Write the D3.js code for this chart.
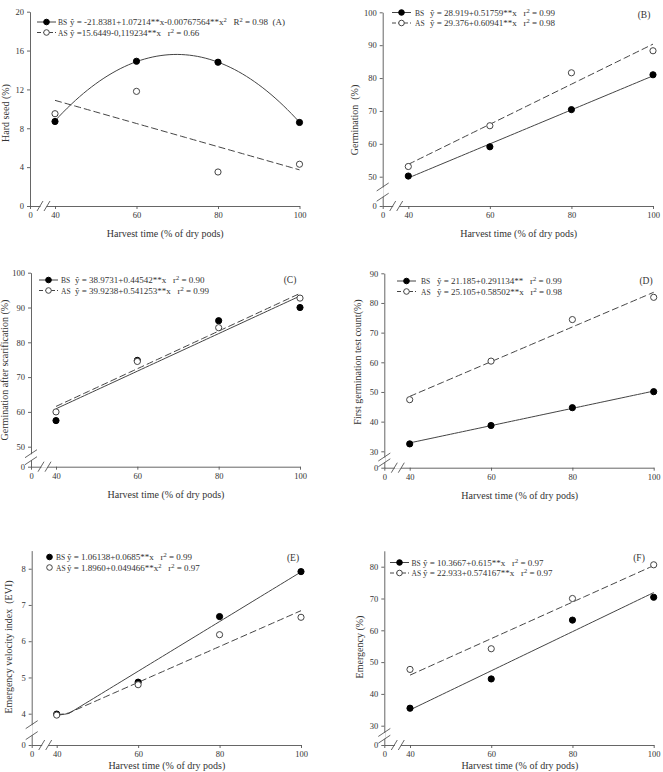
<!DOCTYPE html>
<html>
<head>
<meta charset="utf-8">
<script src="https://cdn.jsdelivr.net/npm/d3@7"></script>
<style>
  body { margin: 0; background: #fff; }
  svg { display: block; font-family: "Liberation Serif", "DejaVu Serif", serif; }
</style>
</head>
<body>
<div id="chart"></div>
<script>
// harvest times (% of dry pods) and axis ticks
const harvest = [40, 60, 80, 100];
const xTicks = [0, 40, 60, 80, 100];
const seriesNames = ["BS", "AS"];

// (A) hard seed
const hardSeedBS = [8.7, 14.9, 14.8, 8.6];
const hardSeedAS = [9.5, 11.8, 3.5, 4.3];
const hardSeedFitBS = [-21.8381, 1.07214, -0.00767564];
const hardSeedFitAS = [15.6449, -0.119234];
const hardSeedTicks = [0, 4, 8, 12, 16, 20];

// (B) germination
const germBS = [50.2, 59.1, 70.4, 81.0];
const germAS = [53.1, 65.5, 81.6, 88.3];
const germFitBS = [28.919, 0.51759];
const germFitAS = [29.376, 0.60941];
const germTicks = [0, 50, 60, 70, 80, 90, 100];

// (C) germination after scarification
const scarBS = [57.5, 74.8, 86.2, 90.0];
const scarAS = [60.0, 74.5, 84.2, 92.7];
const scarFitBS = [39.3, 0.54]; // as drawn (printed equation doesn't match the line)
const scarFitAS = [39.9238, 0.541253];
const scarTicks = [0, 50, 60, 70, 80, 90, 100];

// (D) first germination count
const firstBS = [32.5, 38.7, 44.7, 50.1];
const firstAS = [47.4, 60.4, 74.4, 81.9];
const firstFitBS = [21.185, 0.291134];
const firstFitAS = [25.105, 0.58502];
const firstTicks = [0, 30, 40, 50, 60, 70, 80, 90];

// (E) emergency velocity index
const eviBS = [3.95, 4.87, 6.68, 7.92];
const eviAS = [3.82, 4.80, 6.18, 6.66];
const eviFitBS = [1.06138, 0.0685];
const eviFitAS = [1.8960, 0.049466];
const eviTicks = [0, 4, 5, 6, 7, 8];

// (F) emergency
const emergBS = [35.5, 44.7, 63.2, 70.4];
const emergAS = [47.7, 54.2, 70.0, 80.6];
const emergFitBS = [10.3667, 0.615];
const emergFitAS = [22.933, 0.574167];
const emergTicks = [0, 30, 40, 50, 60, 70, 80];

const xTitle = "Harvest time (% of dry pods)";

const panels = [
  { bs: hardSeedBS, as: hardSeedAS, fit: [hardSeedFitBS, hardSeedFitAS], ticks: hardSeedTicks,
    yDomain: [0, 20], yRange: [206, 11.7], xRange: [30, 55, 299.5], yBreak: false,
    yTitle: "Hard seed (%)", yTitlePos: [9, 113],
    eq: ["\u0177 = -21.8381+1.07214**x-0.00767564**x^2   R^2 = 0.98  (A)", "\u0177 =15.6449-0,119234**x   r^2 = 0.66"],
    leg: { x: 37, y: 25, labX: 58, eqX: 70, line: true }, letter: null },
  { bs: germBS, as: germAS, fit: [germFitBS, germFitAS], ticks: germTicks,
    yDomain: [0, 50, 100], yRange: [206, 176.7, 12.3], xRange: [382.7, 408.3, 653], yBreak: true,
    yTitle: "Germination  (%)", yTitlePos: [358, 120],
    eq: ["\u0177 = 28.919+0.51759**x   r^2 = 0.99", "\u0177 = 29.376+0.60941**x   r^2 = 0.98"],
    leg: { x: 392, y: 15.5, labX: 415, eqX: 430, line: true }, letter: ["(B)", 644, 18] },
  { bs: scarBS, as: scarAS, fit: [scarFitBS, scarFitAS], ticks: scarTicks,
    yDomain: [0, 50, 100], yRange: [466.7, 446.7, 272.7], xRange: [31, 56, 300], yBreak: true,
    yTitle: "Germination after scarification (%)", yTitlePos: [8, 370],
    eq: ["\u0177 = 38.9731+0.44542**x   r^2 = 0.90", "\u0177 = 39.9238+0.541253**x   r^2 = 0.99"],
    leg: { x: 39, y: 283, labX: 61, eqX: 75, line: true }, letter: ["(C)", 290, 283] },
  { bs: firstBS, as: firstAS, fit: [firstFitBS, firstFitAS], ticks: firstTicks,
    yDomain: [0, 30, 90], yRange: [467.7, 451.3, 273.3], xRange: [384.3, 409.7, 653.7], yBreak: true,
    yTitle: "First germination test count(%)", yTitlePos: [361, 362],
    eq: ["\u0177 = 21.185+0.291134**   r^2 = 0.99", "\u0177 = 25.105+0.58502**x   r^2 = 0.98"],
    leg: { x: 397, y: 284, labX: 421, eqX: 437, line: true }, letter: ["(D)", 646, 284] },
  { bs: eviBS, as: eviAS, fit: [eviFitBS, eviFitAS], ticks: eviTicks,
    yDomain: [0, 4, 8.5], yRange: [745, 713.7, 550.6], xRange: [31.7, 56.7, 301], yBreak: true,
    yTitle: "Emergency velocity index  (EVI)", yTitlePos: [11.5, 647],
    eq: ["\u0177 = 1.06138+0.0685**x   r^2 = 0.99", "\u0177 = 1.8960+0.049466**x^2   r^2 = 0.97"],
    leg: { x: 40, y: 560, labX: 56, eqX: 67, line: false }, letter: ["(E)", 293, 561] },
  { bs: emergBS, as: emergAS, fit: [emergFitBS, emergFitAS], ticks: emergTicks,
    yDomain: [0, 30, 85], yRange: [745, 725.7, 550.8], xRange: [384.3, 410, 653.7], yBreak: true,
    yTitle: "Emergency (%)", yTitlePos: [362.5, 647],
    eq: ["\u0177 = 10.3667+0.615**x   r^2 = 0.97", "\u0177 = 22.933+0.574167**x   r^2 = 0.97"],
    leg: { x: 390, y: 565.5, labX: 411.5, eqX: 423, line: true }, letter: ["(F)", 639, 561] }
];

const W = 663, H = 772;
const axisColor = "#555", textColor = "#333", lineColor = "#444";

const svg = d3.select("#chart").append("svg")
  .attr("width", W).attr("height", H);

// writes "x^2" style text with superscripts
function richText(sel, str) {
  const parts = str.split("^2");
  parts.forEach((p, i) => {
    sel.append("tspan").text(p).attr("dy", i === 0 ? 0 : 3);
    if (i < parts.length - 1) {
      sel.append("tspan").text("2").attr("font-size", "6.5px").attr("dy", -3);
    }
  });
}

function drawPanel(p) {
  const g = svg.append("g");
  const x = d3.scaleLinear().domain([0, 40, 100]).range(p.xRange);
  const y = d3.scaleLinear().domain(p.yDomain).range(p.yRange);
  const y0 = y(0), x0 = x(0);

  // axes
  const xa = g.append("g").attr("transform", `translate(0,${y0})`)
    .call(d3.axisBottom(x).tickValues(xTicks).tickSize(3).tickSizeOuter(0).tickPadding(3));
  const ya = g.append("g").attr("transform", `translate(${x0},0)`)
    .call(d3.axisLeft(y).tickValues(p.ticks).tickSize(3).tickSizeOuter(0).tickPadding(3));
  [xa, ya].forEach(a => {
    a.attr("font-family", null).attr("font-size", 8.5);
    a.selectAll("path, line").attr("stroke", axisColor).attr("stroke-width", 0.9);
    a.selectAll("text").attr("fill", textColor);
  });

  // axis breaks
  const brk = g.append("g").attr("stroke", axisColor).attr("stroke-width", 0.9);
  brk.append("line").attr("x1", x0 + 10.5).attr("x2", x0 + 16.5).attr("y1", y0).attr("y2", y0)
    .attr("stroke", "#fff").attr("stroke-width", 2);
  [10, 17].forEach(dx => {
    brk.append("line").attr("x1", x0 + dx - 3).attr("y1", y0 + 5)
      .attr("x2", x0 + dx + 3).attr("y2", y0 - 5);
  });
  if (p.yBreak) {
    const yb = y(p.ticks[1]);
    const a = y0 - (y0 - yb) * 0.3, b = y0 - (y0 - yb) * 0.65;
    brk.append("line").attr("x1", x0).attr("x2", x0).attr("y1", a - 0.5).attr("y2", b + 0.5)
      .attr("stroke", "#fff").attr("stroke-width", 2);
    [a, b].forEach(yy => {
      brk.append("line").attr("x1", x0 - 6).attr("y1", yy + 4)
        .attr("x2", x0 + 6).attr("y2", yy - 4);
    });
  }

  // axis titles
  g.append("text").attr("x", (x(40) + x(100)) / 2 - 12).attr("y", Math.min(y0 + 31, H - 3))
    .attr("text-anchor", "middle").attr("font-size", 10).attr("fill", textColor).text(xTitle);
  g.append("text").attr("transform", `translate(${p.yTitlePos[0]},${p.yTitlePos[1]}) rotate(-90)`)
    .attr("text-anchor", "middle").attr("font-size", 10).attr("fill", textColor)
    .style("white-space", "pre").text(p.yTitle);

  // fitted lines
  const fx = d3.range(40, 100.01, 1);
  p.fit.forEach((c, i) => {
    const pts = fx.map(v => [v, c.reduce((s, k, j) => s + k * Math.pow(v, j), 0)]);
    g.append("path").datum(pts)
      .attr("d", d3.line().x(d => x(d[0])).y(d => y(d[1])))
      .attr("fill", "none").attr("stroke", lineColor).attr("stroke-width", 1)
      .attr("stroke-dasharray", i === 1 ? "7,3" : null);
  });

  // points
  [p.bs, p.as].forEach((vals, i) => {
    g.append("g").selectAll("circle").data(vals).join("circle")
      .attr("cx", (d, k) => x(harvest[k])).attr("cy", d => y(d)).attr("r", 3.1)
      .attr("fill", i === 0 ? "#000" : "#fff")
      .attr("stroke", i === 0 ? "#000" : lineColor).attr("stroke-width", 1);
  });

  // legend
  const L = p.leg;
  seriesNames.forEach((name, i) => {
    const ly = L.y + i * 10.5;
    const row = g.append("g");
    if (L.line) {
      row.append("line").attr("x1", L.x).attr("x2", L.x + 19).attr("y1", ly - 3).attr("y2", ly - 3)
        .attr("stroke", lineColor).attr("stroke-width", 1)
        .attr("stroke-dasharray", i === 1 ? "4,2" : null);
    }
    row.append("circle").attr("cx", L.x + 9.5).attr("cy", ly - 3).attr("r", 2.8)
      .attr("fill", i === 0 ? "#000" : "#fff").attr("stroke", i === 0 ? "#000" : lineColor);
    row.append("text").attr("x", L.labX).attr("y", ly).attr("font-size", 7.5)
      .attr("fill", textColor).text(name);
    const t = row.append("text").attr("x", L.eqX).attr("y", ly).attr("font-size", 9)
      .attr("fill", textColor).style("white-space", "pre");
    richText(t, p.eq[i]);
  });
  if (p.letter) {
    g.append("text").attr("x", p.letter[1]).attr("y", p.letter[2]).attr("text-anchor", "middle")
      .attr("font-size", 9.5).attr("fill", textColor).text(p.letter[0]);
  }
}

panels.forEach(drawPanel);
</script>
</body>
</html>
